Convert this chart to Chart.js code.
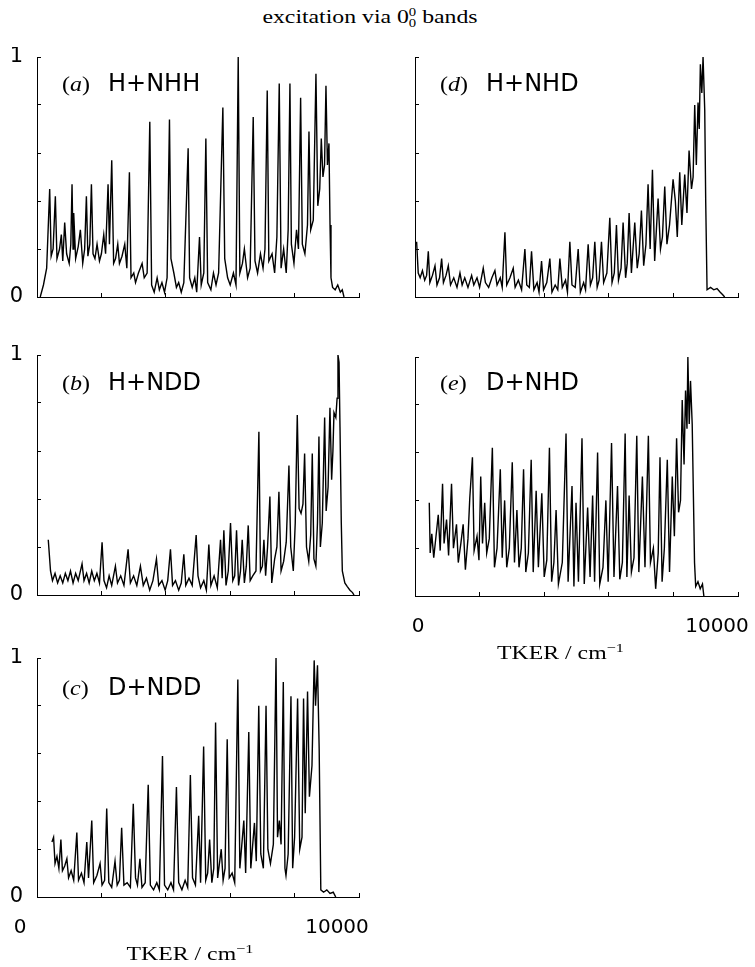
<!DOCTYPE html>
<html>
<head>
<meta charset="utf-8">
<script src="https://cdn.jsdelivr.net/npm/chart.js@4.4.1/dist/chart.umd.min.js"></script>
<style>
  body { margin: 0; background: #fff; width: 755px; height: 967px; position: relative; overflow: hidden; }
  canvas { position: absolute; }
  #title { position: absolute; left: 0; width: 740px; top: 6px; line-height: 22px; text-align: center;
           font: 19px "Liberation Serif", serif; transform: scaleX(1.25); }
  .ss { display: inline-block; vertical-align: -0.32em; font-size: 0.62em; line-height: 0.92; }
  .ss span { display: block; }
</style>
</head>
<body>
<div id="title">excitation via 0<span class="ss"><span>0</span><span>0</span></span> bands</div>
<canvas id="pa"></canvas>
<canvas id="pb"></canvas>
<canvas id="pc"></canvas>
<canvas id="pd"></canvas>
<canvas id="pe"></canvas>
<script>
// [TKER / cm-1, normalised signal]
const specA = [[100,0],[200,0.05],[300,0.12],[394,0.45],[440,0.17],[500,0.2],[570,0.42],[620,0.16],[700,0.2],[756,0.26],
  [800,0.15],[860,0.31],[920,0.18],[1000,0.14],[1050,0.22],[1088,0.47],[1120,0.2],[1140,0.35],[1200,0.16],[1280,0.21],
  [1347,0.28],[1420,0.14],[1480,0.2],[1534,0.42],[1580,0.17],[1640,0.22],[1690,0.47],[1740,0.18],[1800,0.16],[1865,0.22],
  [1940,0.15],[2000,0.18],[2073,0.26],[2130,0.18],[2207,0.47],[2250,0.22],[2321,0.57],[2380,0.14],[2440,0.16],[2508,0.22],
  [2560,0.14],[2640,0.17],[2725,0.22],[2790,0.12],[2870,0.52],[2920,0.08],[3005,0.1],[3060,0.06],[3150,0.1],[3264,0.14],
  [3330,0.08],[3420,0.1],[3503,0.73],[3560,0.05],[3640,0.02],[3731,0.08],[3800,0.03],[3880,0.06],[3960,0.02],[4040,0.08],
  [4114,0.74],[4160,0.16],[4250,0.1],[4330,0.04],[4400,0.06],[4480,0.02],[4560,0.06],[4694,0.62],[4740,0.08],[4820,0.04],
  [4900,0.08],[4960,0.02],[5047,0.25],[5100,0.05],[5180,0.1],[5244,0.66],[5300,0.06],[5400,0.03],[5480,0.1],[5560,0.05],
  [5640,0.1],[5772,0.79],[5830,0.16],[5920,0.08],[6000,0.05],[6100,0.1],[6180,0.05],[6249,1],[6300,0.1],[6380,0.14],
  [6440,0.2],[6540,0.08],[6620,0.12],[6715,0.75],[6770,0.15],[6850,0.1],[6940,0.18],[7020,0.12],[7080,0.2],[7150,0.86],
  [7200,0.15],[7300,0.18],[7380,0.1],[7450,0.25],[7523,0.89],[7580,0.12],[7660,0.2],[7740,0.1],[7800,0.28],[7855,0.89],
  [7900,0.22],[7980,0.14],[8060,0.28],[8120,0.2],[8187,0.83],[8240,0.22],[8320,0.18],[8400,0.3],[8446,0.69],[8500,0.28],
  [8580,0.32],[8663,0.93],[8720,0.38],[8780,0.45],[8829,0.66],[8880,0.5],[8930,0.55],[8974,0.88],[9020,0.55],[9067,0.64],
  [9100,0.3],[9130,0.08],[9180,0.04],[9260,0.03],[9340,0.05],[9420,0.02],[9480,0.03],[9534,0]];

const specB = [[350,0.23],[420,0.1],[480,0.06],[560,0.09],[640,0.05],[720,0.08],[800,0.05],[880,0.09],[960,0.06],[1040,0.1],
  [1120,0.05],[1200,0.09],[1280,0.06],[1399,0.13],[1460,0.06],[1540,0.09],[1620,0.05],[1700,0.1],[1780,0.06],[1860,0.09],
  [1940,0.05],[2021,0.22],[2080,0.06],[2160,0.03],[2240,0.08],[2320,0.04],[2435,0.12],[2500,0.05],[2600,0.08],[2700,0.04],
  [2829,0.19],[2900,0.05],[3000,0.08],[3100,0.04],[3212,0.12],[3300,0.04],[3400,0.07],[3500,0.02],[3600,0.06],[3710,0.15],
  [3780,0.04],[3880,0.06],[3980,0.02],[4060,0.06],[4145,0.19],[4210,0.04],[4300,0.06],[4400,0.02],[4480,0.05],[4560,0.17],
  [4620,0.04],[4720,0.07],[4820,0.04],[4943,0.25],[5000,0.08],[5080,0.03],[5180,0.06],[5260,0.02],[5337,0.21],[5400,0.04],
  [5500,0.08],[5600,0.03],[5700,0.23],[5750,0.07],[5803,0.27],[5870,0.04],[5940,0.1],[6010,0.3],[6080,0.06],[6140,0.08],
  [6197,0.27],[6260,0.04],[6320,0.1],[6373,0.23],[6440,0.05],[6500,0.12],[6560,0.29],[6620,0.06],[6700,0.08],[6800,0.1],
  [6891,0.68],[6940,0.1],[7000,0.12],[7047,0.23],[7100,0.08],[7160,0.2],[7233,0.41],[7290,0.05],[7380,0.15],[7450,0.2],
  [7513,0.43],[7580,0.1],[7660,0.14],[7740,0.22],[7824,0.54],[7880,0.2],[7960,0.1],[8020,0.3],[8083,0.75],[8140,0.36],
  [8200,0.34],[8260,0.38],[8311,0.59],[8370,0.2],[8440,0.14],[8500,0.25],[8549,0.59],[8600,0.15],[8660,0.12],[8710,0.3],
  [8756,0.66],[8800,0.2],[8860,0.3],[8933,0.74],[8980,0.35],[9040,0.45],[9098,0.78],[9150,0.48],[9190,0.6],[9223,0.76],
  [9280,0.74],[9320,0.82],[9347,1],[9380,0.97],[9410,0.7],[9450,0.3],[9482,0.1],[9560,0.05],[9637,0.035],[9720,0.02],
  [9800,0.01],[9845,0]];

const specC = [[464,0.23],[515,0.25],[560,0.14],[620,0.17],[680,0.12],[742,0.24],[790,0.11],[860,0.13],[928,0.16],[980,0.08],
  [1060,0.11],[1140,0.07],[1237,0.27],[1290,0.07],[1380,0.1],[1460,0.06],[1546,0.23],[1600,0.08],[1701,0.32],[1760,0.06],
  [1860,0.09],[1959,0.14],[2020,0.05],[2100,0.07],[2165,0.37],[2230,0.06],[2320,0.04],[2423,0.15],[2490,0.05],[2560,0.07],
  [2629,0.29],[2700,0.05],[2800,0.06],[2900,0.04],[2990,0.39],[3060,0.08],[3120,0.05],[3196,0.16],[3260,0.04],[3360,0.06],
  [3454,0.47],[3520,0.05],[3620,0.03],[3720,0.06],[3800,0.03],[3897,0.59],[3960,0.05],[4060,0.03],[4160,0.06],[4240,0.03],
  [4330,0.46],[4400,0.06],[4500,0.03],[4600,0.07],[4680,0.04],[4763,0.51],[4830,0.08],[4920,0.05],[5021,0.34],[5080,0.06],
  [5175,0.63],[5240,0.07],[5300,0.1],[5361,0.24],[5430,0.06],[5490,0.12],[5546,0.73],[5610,0.08],[5722,0.2],[5780,0.07],
  [5840,0.12],[5907,0.66],[5970,0.08],[6060,0.1],[6140,0.06],[6237,0.91],[6300,0.12],[6423,0.32],[6480,0.1],[6577,0.69],
  [6640,0.12],[6753,0.31],[6810,0.15],[6887,0.8],[6950,0.18],[7030,0.12],[7113,0.8],[7170,0.2],[7250,0.14],[7340,0.22],
  [7423,1],[7470,0.25],[7526,0.32],[7580,0.22],[7649,0.9],[7700,0.12],[7732,0.09],[7800,0.18],[7887,0.84],[7940,0.12],
  [8000,0.25],[8093,0.83],[8160,0.2],[8230,0.25],[8278,0.83],[8330,0.35],[8402,0.86],[8460,0.42],[8540,0.55],[8608,0.99],
  [8650,0.8],[8711,0.97],[8763,0.62],[8814,0.03],[8900,0.02],[9000,0.03],[9100,0.015],[9200,0.02],[9278,0]];

const specD = [[50,0.23],[100,0.1],[160,0.08],[230,0.11],[300,0.07],[360,0.09],[412,0.19],[460,0.06],[540,0.09],[619,0.13],
  [680,0.05],[760,0.08],[825,0.16],[880,0.06],[960,0.09],[1031,0.13],[1100,0.05],[1200,0.08],[1300,0.04],[1392,0.1],
  [1460,0.05],[1540,0.08],[1640,0.04],[1753,0.09],[1820,0.05],[1920,0.08],[2000,0.04],[2113,0.12],[2180,0.06],[2280,0.04],
  [2380,0.08],[2474,0.11],[2540,0.05],[2640,0.08],[2700,0.04],[2784,0.27],[2840,0.05],[2940,0.08],[3041,0.12],[3100,0.04],
  [3200,0.07],[3300,0.03],[3402,0.2],[3460,0.05],[3540,0.04],[3608,0.19],[3680,0.03],[3780,0.06],[3840,0.02],[3918,0.15],
  [3980,0.03],[4080,0.06],[4175,0.16],[4240,0.02],[4340,0.05],[4420,0.03],[4485,0.16],[4560,0.04],[4660,0.07],[4720,0.02],
  [4794,0.23],[4860,0.05],[4960,0.04],[5052,0.2],[5120,0.02],[5220,0.06],[5280,0.03],[5361,0.22],[5430,0.05],[5500,0.08],
  [5567,0.23],[5640,0.04],[5700,0.07],[5773,0.23],[5840,0.06],[5940,0.1],[6031,0.33],[6100,0.06],[6170,0.1],[6237,0.3],
  [6300,0.07],[6380,0.12],[6443,0.31],[6520,0.08],[6570,0.14],[6629,0.35],[6700,0.1],[6804,0.31],[6880,0.12],[6940,0.18],
  [7010,0.36],[7080,0.13],[7150,0.22],[7216,0.47],[7280,0.2],[7351,0.53],[7420,0.15],[7526,0.41],[7600,0.2],[7660,0.25],
  [7732,0.46],[7800,0.22],[7880,0.3],[7990,0.49],[8060,0.4],[8120,0.25],[8196,0.52],[8260,0.3],[8351,0.51],[8420,0.35],
  [8485,0.61],[8560,0.45],[8610,0.5],[8660,0.8],[8710,0.55],[8763,0.81],[8800,0.7],[8835,0.97],[8880,0.85],[8918,1],
  [8970,0.78],[9000,0.4],[9042,0.03],[9150,0.04],[9250,0.03],[9350,0.035],[9450,0.02],[9520,0.01],[9588,0]];

const specE = [[442,0.39],[470,0.18],[520,0.26],[580,0.16],[650,0.25],[720,0.34],[780,0.19],[853,0.47],[900,0.22],[977,0.32],
  [1040,0.17],[1131,0.47],[1190,0.2],[1285,0.3],[1340,0.14],[1420,0.22],[1491,0.3],[1560,0.11],[1640,0.24],[1696,0.41],
  [1778,0.58],[1830,0.19],[1920,0.25],[1980,0.15],[2035,0.5],[2090,0.22],[2158,0.39],[2220,0.18],[2300,0.24],[2395,0.62],
  [2460,0.12],[2540,0.2],[2641,0.53],[2700,0.16],[2775,0.4],[2840,0.12],[2920,0.2],[3011,0.56],[3080,0.14],[3155,0.36],
  [3220,0.12],[3290,0.2],[3361,0.53],[3430,0.1],[3510,0.18],[3597,0.57],[3660,0.1],[3751,0.44],[3820,0.12],[3926,0.43],
  [4000,0.08],[4080,0.15],[4162,0.62],[4230,0.06],[4300,0.14],[4368,0.36],[4440,0.05],[4560,0.14],[4676,0.68],[4740,0.06],
  [4861,0.46],[4920,0.04],[4985,0.39],[5060,0.06],[5170,0.66],[5240,0.05],[5345,0.37],[5420,0.08],[5499,0.42],[5560,0.06],
  [5653,0.6],[5720,0.05],[5820,0.12],[5910,0.4],[5980,0.06],[6085,0.64],[6160,0.08],[6270,0.46],[6340,0.07],[6420,0.14],
  [6506,0.68],[6560,0.08],[6629,0.42],[6700,0.1],[6780,0.16],[6866,0.67],[6930,0.1],[7040,0.5],[7120,0.12],[7225,0.67],
  [7290,0.14],[7380,0.2],[7451,0.03],[7530,0.18],[7585,0.58],[7650,0.06],[7720,0.2],[7811,0.57],[7880,0.1],[7965,0.5],
  [8030,0.25],[8099,0.66],[8160,0.35],[8220,0.4],[8273,0.82],[8330,0.55],[8376,0.86],[8420,0.7],[8448,1],[8490,0.72],
  [8530,0.9],[8582,0.72],[8654,0.14],[8690,0.04],[8760,0.06],[8830,0.03],[8900,0.05],[8943,0]];

const xTickValues = [0, 10000];
const xTickText = ['0', '10000'];
const yLabelled = [0, 1];

// draws x tick labels, axis title and the (a) H+NHH style tags
function wideText(ctx, parts, x, y, sx, align) {
  let total = 0;
  parts.forEach(p => { ctx.font = p.font; p.w = ctx.measureText(p.t).width * sx; total += p.w; });
  let cx = align === 'center' ? x - total / 2 : x;
  parts.forEach(p => {
    ctx.save();
    ctx.translate(cx, y + (p.dy || 0));
    ctx.scale(sx, 1);
    ctx.font = p.font;
    ctx.fillText(p.t, 0, 0);
    ctx.restore();
    cx += p.w;
  });
}

const panelText = {
  id: 'panelText',
  afterDraw(chart, args, o) {
    const { ctx, chartArea: a } = chart;
    const x = chart.scales.x;
    ctx.save();
    ctx.fillStyle = '#000';
    ctx.textBaseline = 'alphabetic';
    ctx.textAlign = 'left';
    const ty = a.top + o.tagDy;
    wideText(ctx, [
      { t: '(', font: '20px "Liberation Serif"' },
      { t: o.letter, font: 'italic 20px "Liberation Serif"' },
      { t: ')', font: '20px "Liberation Serif"' }
    ], a.left + 25, ty, 1.2, 'left');
    ctx.font = '24px "DejaVu Sans"';
    ctx.fillText(o.name, a.left + 71, ty);
    if (o.bottom) {
      ctx.font = '20px "DejaVu Sans"';
      ctx.textAlign = 'center';
      xTickValues.forEach((v, i) => {
        ctx.fillText(xTickText[i], x.getPixelForValue(v) + o.labelDx[i], a.bottom + 36);
      });
      ctx.textAlign = 'left';
      wideText(ctx, [
        { t: 'TKER / cm', font: '19px "Liberation Serif"' },
        { t: '\u22121', font: '13px "Liberation Serif"', dy: -7 }
      ], (a.left + a.right) / 2 + o.titleDx, a.bottom + 63, 1.25, 'center');
    }
    ctx.restore();
  }
};

const panels = [
  { id: 'pa', letter: 'a', name: 'H+NHH', spec: specA, L: 37, T: 57, R: 359, B: 297, yLabels: true, bottom: false, tagDy: 34 },
  { id: 'pb', letter: 'b', name: 'H+NDD', spec: specB, L: 37, T: 355, R: 359, B: 595, yLabels: true, bottom: false, tagDy: 35 },
  { id: 'pc', letter: 'c', name: 'D+NDD', spec: specC, L: 37, T: 658, R: 359, B: 897, yLabels: true, bottom: true, tagDy: 37,
    labelDx: [-17, -22], titleDx: -8 },
  { id: 'pd', letter: 'd', name: 'H+NHD', spec: specD, L: 415, T: 57, R: 738, B: 297, yLabels: false, bottom: false, tagDy: 34 },
  { id: 'pe', letter: 'e', name: 'D+NHD', spec: specE, L: 415, T: 357, R: 738, B: 596, yLabels: false, bottom: true, tagDy: 33,
    labelDx: [3, -21], titleDx: -16 }
];

const YAXIS_W = 37, PAD_T = 10, PAD_R = 12;

panels.forEach(p => {
  const el = document.getElementById(p.id);
  const xh = p.bottom ? 75 : 6;
  const w = YAXIS_W + (p.R - p.L) + PAD_R;
  const h = PAD_T + (p.B - p.T) + xh;
  el.width = w; el.height = h;
  el.style.left = (p.L - YAXIS_W) + 'px';
  el.style.top = (p.T - PAD_T) + 'px';
  el.style.width = w + 'px'; el.style.height = h + 'px';

  new Chart(el, {
    type: 'line',
    data: {
      datasets: [{
        data: p.spec.map(d => ({ x: d[0], y: d[1] })),
        borderColor: '#000',
        borderWidth: 1.4,
        pointRadius: 0,
        tension: 0,
        fill: false
      }]
    },
    options: {
      responsive: false,
      animation: false,
      devicePixelRatio: 1,
      layout: { padding: { top: PAD_T, right: PAD_R, left: 0, bottom: 0 } },
      plugins: {
        legend: { display: false },
        tooltip: { enabled: false },
        panelText: { letter: p.letter, name: p.name, tagDy: p.tagDy, bottom: p.bottom, labelDx: p.labelDx, titleDx: p.titleDx }
      },
      scales: {
        x: {
          type: 'linear', min: 0, max: 10000,
          ticks: { stepSize: 2000, display: false },
          grid: { drawOnChartArea: false, tickLength: -4, color: '#000' },
          border: { color: '#000', width: 1 },
          afterFit: s => { s.height = xh; s.paddingLeft = 0; s.paddingRight = 0; }
        },
        y: {
          min: 0, max: 1,
          ticks: {
            stepSize: 0.2, display: p.yLabels, padding: 18, color: '#000',
            font: { family: 'DejaVu Sans', size: 21 },
            callback: v => yLabelled.some(t => Math.abs(t - v) < 1e-6) ? String(Math.round(v)) : ''
          },
          grid: { drawOnChartArea: false, tickLength: -4, color: '#000' },
          border: { color: '#000', width: 1 },
          afterFit: s => { s.width = YAXIS_W; s.paddingTop = 0; s.paddingBottom = 0; }
        }
      }
    },
    plugins: [panelText]
  });
});
</script>
</body>
</html>
